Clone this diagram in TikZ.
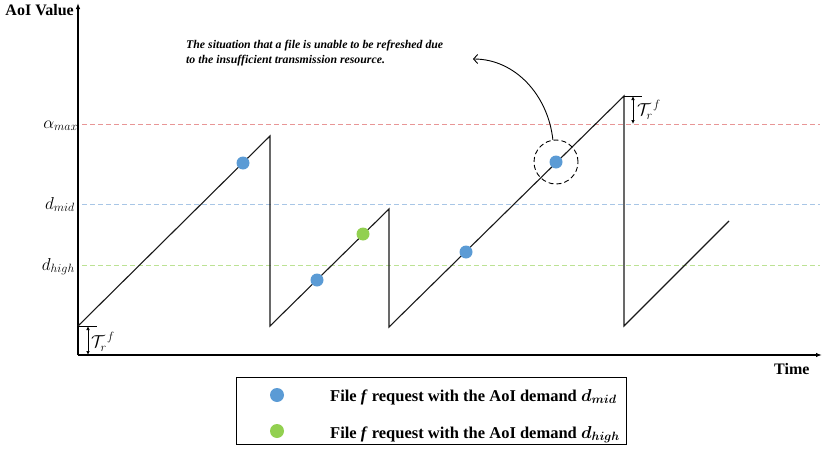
\documentclass[tikz,border=0pt]{standalone}
\usepackage{fontspec}
\setmainfont{Liberation Serif}
\usetikzlibrary{arrows.meta}
\definecolor{dotblue}{RGB}{91,155,213}
\definecolor{dotgreen}{RGB}{146,208,80}
\definecolor{lnred}{RGB}{232,150,150}
\definecolor{lnblue}{RGB}{168,198,230}
\definecolor{lngreen}{RGB}{188,226,148}
\begin{document}
\begin{tikzpicture}[x=1pt,y=-1pt,
  axis/.style={line width=1.8pt,-{Latex[length=6pt,width=4.5pt]}},
  saw/.style={line width=1.1pt,black!90,line join=miter},
  level/.style={line width=1pt,dash pattern=on 5pt off 3pt},
  req/.style={circle,inner sep=0pt,minimum size=13pt},
  mlabel/.style={font=\fontsize{17}{20}\selectfont,inner sep=0pt},
  dimarrow/.style={line width=0.7pt,{Latex[length=4pt,width=3.5pt]}-{Latex[length=4pt,width=3.5pt]}},
  boldtext/.style={font=\fontsize{16}{19}\selectfont\bfseries,inner sep=0pt},
  legtext/.style={font=\fontsize{16.5}{19}\selectfont\bfseries,inner sep=0pt,anchor=base west},
  anntext/.style={font=\fontsize{11.8}{14}\selectfont\bfseries\itshape,inner sep=0pt,anchor=base west}]
\useasboundingbox (0,0) rectangle (823,450);
% level lines
\draw[level,lnred] (82,124) -- (820,124);
\draw[level,lnblue] (82,204) -- (820,204);
\draw[level,lngreen] (82,265) -- (820,265);
% axes
\coordinate (O) at (78,355);
\coordinate (ytop) at (78,3);
\coordinate (xend) at (822,355);
\draw[axis] (O) -- (ytop);
\draw[axis] (O) -- (xend);
\node[boldtext,anchor=base east] (ylab) at (74,15) {AoI Value};
\node[boldtext,anchor=base west] (xlab) at (774,374) {Time};
% level labels
\node[mlabel,anchor=base east] (amax) at (78,128) {$\alpha_{max}$};
\node[mlabel,anchor=base east] (dmid) at (75,209) {$d_{mid}$};
\node[mlabel,anchor=base east] (dhigh) at (75,270) {$d_{high}$};
% sawtooth
\coordinate (s0) at (78,326);
\coordinate (p1) at (270,136);
\coordinate (b1) at (270,326);
\coordinate (p2) at (389,209);
\coordinate (b2) at (389,327);
\coordinate (p3) at (624,96);
\coordinate (b3) at (624,326);
\coordinate (e4) at (729,221);
\draw[saw] (s0) -- (p1) -- (b1) -- (p2) -- (b2) -- (p3) -- (b3) -- (e4);
% requests
\node[req,fill=dotblue] (r1) at (243,163) {};
\node[req,fill=dotblue] (r2) at (317,280) {};
\node[req,fill=dotgreen] (r3) at (363,234) {};
\node[req,fill=dotblue] (r4) at (466,252) {};
\node[req,fill=dotblue] (r5) at (556,162) {};
\node[circle,draw,line width=0.9pt,dash pattern=on 5pt off 3pt,minimum size=44pt,inner sep=0pt] (circ) at (556,162) {};
% T_r^f bottom
\coordinate (t1a) at (97,326);
\coordinate (d1a) at (88,326);
\coordinate (d1b) at (88,355);
\draw[line width=0.6pt] (s0) -- (t1a);
\draw[dimarrow] (d1a) -- (d1b);
\node[mlabel,anchor=west] (tr1) at (91,342) {$\mathcal{T}_{r}^{\,f}$};
% T_r^f top
\coordinate (t2a) at (642,96);
\coordinate (d2a) at (633,96);
\coordinate (d2b) at (633,124);
\draw[line width=0.6pt] (p3) -- (t2a);
\draw[dimarrow] (d2a) -- (d2b);
\node[mlabel,anchor=west] (tr2) at (637,110) {$\mathcal{T}_{r}^{\,f}$};
% annotation
\node[anntext] (ann1) at (186,48) {The situation that a file is unable to be refreshed due};
\node[anntext] (ann2) at (186,63) {to the insufficient transmission resource.};
\coordinate (tip) at (473,59);
\draw[line width=0.9pt,-{Straight Barb[length=4pt,width=9pt]}] (circ.98) .. controls (548,95) and (515,59) .. (tip);
% legend
\node[draw,line width=1pt,minimum width=390pt,minimum height=67pt,inner sep=0pt] (legend) at (431,410.5) {};
\node[req,minimum size=14pt,fill=dotblue] (lg1) at (277,395) {};
\node[req,minimum size=14pt,fill=dotgreen] (lg2) at (277,431) {};
\node[legtext] (lt1) at (330,401) {File \textit{f} request with the AoI demand {\boldmath$d_{mid}$}};
\node[legtext] (lt2) at (330,438) {File \textit{f} request with the AoI demand {\boldmath$d_{high}$}};
\end{tikzpicture}
\end{document}
